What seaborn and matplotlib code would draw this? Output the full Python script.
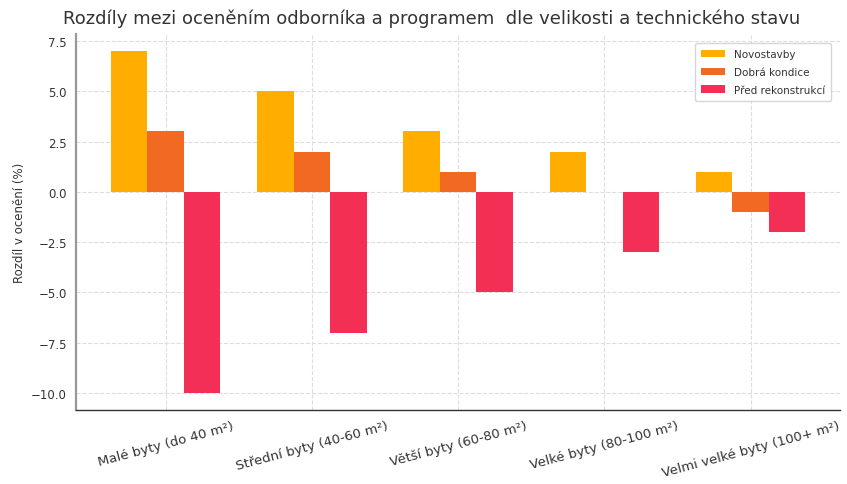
import matplotlib
matplotlib.use("Agg")
import matplotlib.pyplot as plt
import seaborn as sns
import pandas as pd

categories = ["Malé byty (do 40 m²)", "Střední byty (40-60 m²)", "Větší byty (60-80 m²)",
              "Velké byty (80-100 m²)", "Velmi velké byty (100+ m²)"]
series_names = ["Novostavby", "Dobrá kondice", "Před rekonstrukcí"]
novostavby = [7, 5, 3, 2, 1]
dobra_kondice = [3, 2, 1, 0, -1]
pred_rekonstrukci = [-10, -7, -5, -3, -2]
colors = ["#FFAE00", "#F26A21", "#F42F55"]

rows = []
for name, vals in zip(series_names, [novostavby, dobra_kondice, pred_rekonstrukci]):
    for c, v in zip(categories, vals):
        rows.append({"Kategorie": c, "Stav": name, "Hodnota": v})
df = pd.DataFrame(rows)

sns.set_style("white")
plt.rcParams['font.family'] = ['DejaVu Sans']

fig = plt.figure(figsize=(8.47, 4.85), dpi=100)
ax = fig.add_axes([0.0897, 0.1526, 0.9023, 0.7754])

sns.barplot(data=df, x="Kategorie", y="Hodnota", hue="Stav", order=categories,
            hue_order=series_names, palette=colors, width=0.75, saturation=1,
            errorbar=None, ax=ax, edgecolor="none", linewidth=0)

ax.set_xlim(-0.6125, 4.6125)
ax.set_ylim(-10.85, 7.85)
ax.set_axisbelow(True)
ax.grid(True, linestyle="--", color="#dddddd", linewidth=0.8)
for s in ["top", "right"]:
    ax.spines[s].set_visible(False)
ax.spines["left"].set_color("#999999")
ax.spines["left"].set_linewidth(1.6)
ax.spines["bottom"].set_color("#333333")
ax.spines["bottom"].set_linewidth(1.0)
ax.tick_params(axis="both", direction="out", length=3, color="#666666", labelcolor="#333333")
ax.tick_params(axis="y", labelsize=8.5)
ax.tick_params(axis="x", labelsize=9.5)
ax.set_yticks([-10, -7.5, -5, -2.5, 0, 2.5, 5, 7.5])
ax.set_yticklabels(["−10.0", "−7.5", "−5.0", "−2.5", "0.0", "2.5", "5.0", "7.5"])
plt.setp(ax.get_xticklabels(), rotation=15, ha="center")
ax.set_xlabel("")
ax.set_ylabel("Rozdíl v ocenění (%)", fontsize=8.5, color="#333333")

fig.text(0.51, 0.962, "Rozdíly mezi oceněním odborníka a programem  dle velikosti a technického stavu",
         ha="center", va="center", fontsize=13, color="#333333")

leg = ax.legend(loc="upper right", fontsize=7.5, frameon=True, title=None,
                handlelength=2.3, borderpad=0.6, labelspacing=0.75,
                bbox_to_anchor=(0.995, 0.99))
leg.get_frame().set_edgecolor("#cccccc")
for t in leg.get_texts():
    t.set_color("#333333")

fig.savefig("out.png", dpi=100)
